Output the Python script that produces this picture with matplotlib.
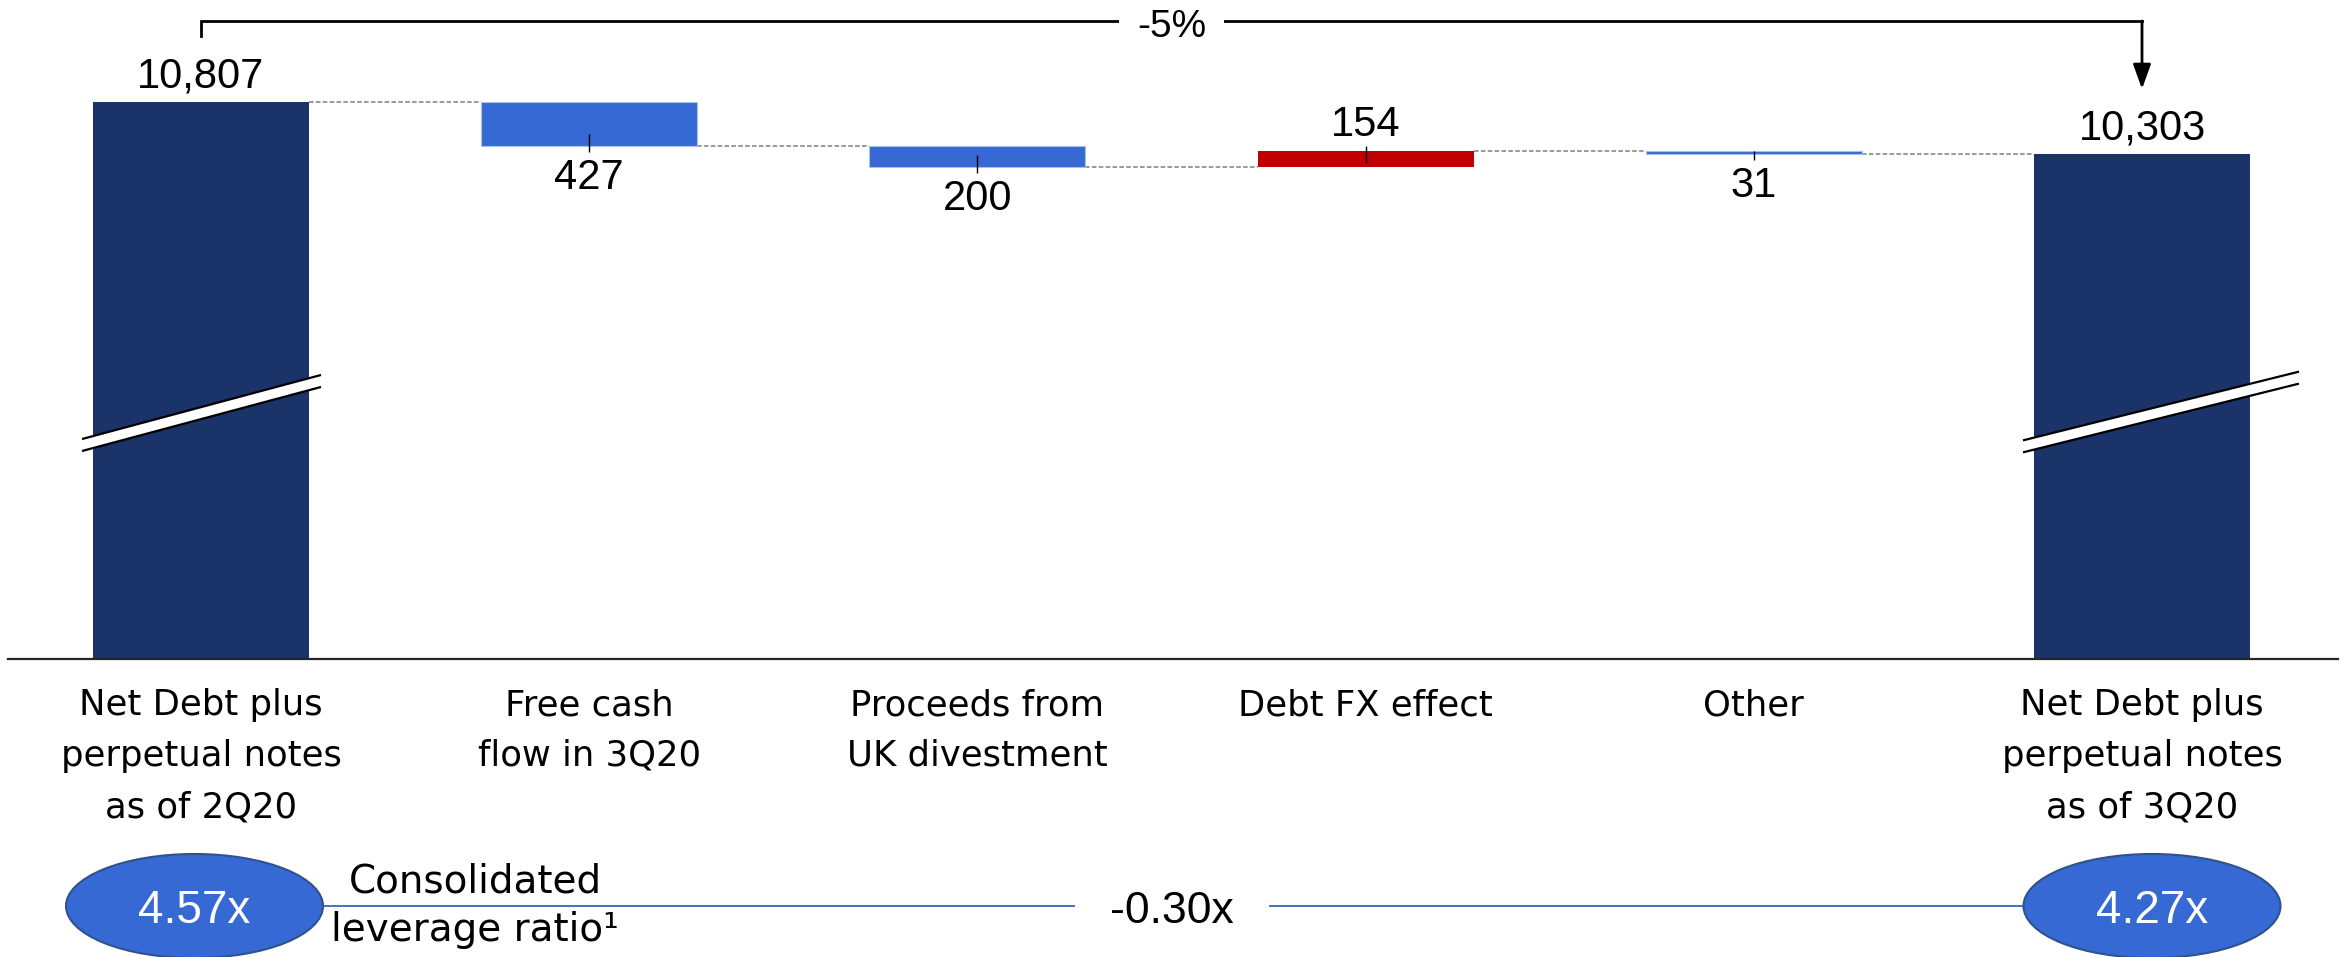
import matplotlib
matplotlib.use("Agg")
import matplotlib.pyplot as plt
import matplotlib.transforms as mtransforms
from matplotlib.patches import Ellipse, Polygon

# ---------------- data ----------------
categories = [
    "Net Debt plus\nperpetual notes\nas of 2Q20",
    "Free cash\nflow in 3Q20",
    "Proceeds from\nUK divestment",
    "Debt FX effect",
    "Other",
    "Net Debt plus\nperpetual notes\nas of 3Q20",
]
start_total = 10807
changes = [-427, -200, 154, -31]
end_total = 10303
value_labels = ["10,807", "427", "200", "154", "31", "10,303"]
change_pct_label = "-5%"
leverage_values = [4.57, 4.27]
leverage_change_label = "-0.30x"
leverage_title = ["Consolidated", "leverage ratio\u00b9"]

# ---------------- style ----------------
NAVY = "#1A3368"
BLUE = "#3669D3"
RED = "#C00000"
LINEBLUE = "#4472C4"
NUMFONT = "Liberation Sans"
TXTFONT = "DejaVu Sans"

W, H = 2346, 957
fig = plt.figure(figsize=(W / 100, H / 100), dpi=100)

AX_LEFT, AX_RIGHT, AX_BOTTOM_ROW = 8, 2338, 659
X0, DX = 201, 388.2  # pixel of first category centre, spacing
ax = fig.add_axes([AX_LEFT / W, (H - AX_BOTTOM_ROW) / H,
                   (AX_RIGHT - AX_LEFT) / W, AX_BOTTOM_ROW / H])
xlim = ((AX_LEFT - X0) / DX, (AX_RIGHT - X0) / DX)
YBASE = 5405
PX_PER_UNIT = 0.1031
ylim = (YBASE, YBASE + AX_BOTTOM_ROW / PX_PER_UNIT)
ax.set_xlim(*xlim)
ax.set_ylim(*ylim)
UPP = 1 / PX_PER_UNIT  # data units per pixel


def yrow(r):
    return YBASE + (AX_BOTTOM_ROW - r) * UPP


for s in ["top", "left", "right"]:
    ax.spines[s].set_visible(False)
ax.spines["bottom"].set_color("#262626")
ax.spines["bottom"].set_linewidth(1.6)
ax.set_xticks([])
ax.set_yticks([])

# ---------------- waterfall ----------------
xs = list(range(len(categories)))
bw = 0.556
bottoms, heights, colors = [YBASE], [start_total - YBASE], [NAVY]
levels = [start_total]
running = start_total
for c in changes:
    if c < 0:
        bottoms.append(running + c)
        heights.append(-c)
        colors.append(BLUE)
    else:
        bottoms.append(running)
        heights.append(c)
        colors.append(RED)
    running += c
    levels.append(running)
bottoms.append(YBASE)
heights.append(end_total - YBASE)
colors.append(NAVY)

edgecols = ["none" if c != BLUE else "#A9C0E8" for c in colors]
ax.bar(xs, heights, bottom=bottoms, width=bw, color=colors,
       edgecolor=edgecols, linewidth=0.8, zorder=2)

# dashed connectors
for i in range(len(xs) - 1):
    ax.hlines(levels[i], xs[i] + bw / 2, xs[i + 1] - bw / 2,
              colors="#7F7F7F", linestyles=(0, (3, 1.5)), linewidth=1.1, zorder=1)

# value labels
def off(dy):
    return mtransforms.offset_copy(ax.transData, fig=fig, x=0, y=dy, units="dots")

for i, lab in enumerate(value_labels):
    top = bottoms[i] + heights[i]
    if i in (0, len(xs) - 1) or (0 < i < len(xs) - 1 and changes[i - 1] > 0):
        ax.text(xs[i], top, lab, transform=off(15), ha="center", va="baseline",
                fontsize=30, family=NUMFONT, color="black")
    else:
        ax.text(xs[i], bottoms[i], lab, transform=off(-43), ha="center", va="baseline",
                fontsize=30, family=NUMFONT, color="black")

# leader ticks on change bars
for i in range(1, len(xs) - 1):
    c = changes[i - 1]
    hpx = heights[i] * PX_PER_UNIT
    inside = min(12, hpx)
    if c < 0:
        edge = bottoms[i]
        ax.vlines(xs[i], edge - 6 * UPP, edge + inside * UPP, colors="black",
                  linewidth=1.0, zorder=3)
    else:
        edge = bottoms[i] + heights[i]
        ax.vlines(xs[i], edge - inside * UPP, edge + 5 * UPP, colors="black",
                  linewidth=1.0, zorder=3)

# axis break marks
def break_mark(xc_data, row, half_len, slope, half_t=6):
    yc = yrow(row)
    tr = mtransforms.Affine2D() + mtransforms.ScaledTranslation(xc_data, yc, ax.transData)
    pts = [(-half_len, -half_len * slope - half_t), (half_len, half_len * slope - half_t),
           (half_len, half_len * slope + half_t), (-half_len, -half_len * slope + half_t)]
    ax.add_patch(Polygon(pts, closed=True, fc="white", ec="none", transform=tr,
                         zorder=4, clip_on=False))
    for sgn in (-1, 1):
        ax.plot([-half_len, half_len],
                [-half_len * slope + sgn * half_t, half_len * slope + sgn * half_t],
                color="black", lw=1.6, transform=tr, zorder=5, clip_on=False,
                solid_capstyle="butt")

break_mark(xs[0] + (201.5 - X0) / DX, 413, 119.5, 0.268)
break_mark(xs[-1] + (2161 - (X0 + 5 * DX)) / DX, 412, 138, 0.249)

# bracket with -5%
by = yrow(21)
ax.plot([xs[0], xs[0], xs[-1]], [yrow(36), by, by], color="black", lw=2,
        clip_on=False, zorder=3, solid_joinstyle="miter")
ax.annotate("", xy=(xs[-1], yrow(89)), xytext=(xs[-1], by),
            arrowprops=dict(arrowstyle="-|>,head_length=1.25,head_width=0.45",
                            mutation_scale=12, color="black", lw=2,
                            shrinkA=0, shrinkB=0), annotation_clip=False)
ax.text((xs[0] + xs[-1]) / 2, yrow(37), change_pct_label, ha="center", va="baseline",
        fontsize=28, family=NUMFONT, color="black", zorder=6,
        bbox=dict(boxstyle="square,pad=0.45", fc="white", ec="none"))

# category labels (one text per line)
xax = mtransforms.blended_transform_factory(ax.transData, ax.transAxes)
for i, cat in enumerate(categories):
    for j, line in enumerate(cat.split("\n")):
        tr = mtransforms.offset_copy(xax, fig=fig, x=0, y=-(56 + 51 * j), units="dots")
        ax.text(xs[i], 0, line, transform=tr, ha="center", va="baseline",
                fontsize=25.5, family=TXTFONT, color="black", clip_on=False)

# ---------------- leverage row ----------------
ROW_TOP = 840
bax = fig.add_axes([AX_LEFT / W, 0, (AX_RIGHT - AX_LEFT) / W, (H - ROW_TOP) / H])
bax.set_xlim(*xlim)
bax.set_ylim(H, ROW_TOP)
bax.axis("off")

ell_x = [xs[0] + (194.5 - X0) / DX, xs[-1] + (2152 - (X0 + 5 * DX)) / DX]
ell_w = 257 / DX
ell_row = 906
mid = (xs[0] + xs[-1]) / 2
gap = 97 / DX
bax.hlines(ell_row, ell_x[0] + ell_w / 2, mid - gap, colors=LINEBLUE, lw=1.4, zorder=1)
bax.hlines(ell_row, mid + gap, ell_x[1] - ell_w / 2, colors=LINEBLUE, lw=1.4, zorder=1)
for ex, val in zip(ell_x, leverage_values):
    bax.add_patch(Ellipse((ex, ell_row), ell_w, 104, fc=BLUE, ec="#2F528F", lw=1.5,
                          zorder=2, clip_on=False))
    bax.text(ex, 923, f"{val:.2f}x", ha="center", va="baseline", fontsize=33,
             family=NUMFONT, color="white", zorder=3)
bax.text(mid, 923, leverage_change_label, ha="center", va="baseline", fontsize=32,
         family=NUMFONT, color="black")
tx = (475 - X0) / DX
bax.text(tx, 893, leverage_title[0], ha="center", va="baseline", fontsize=28,
         family=TXTFONT, color="black")
bax.text(tx, 941, leverage_title[1], ha="center", va="baseline", fontsize=28,
         family=TXTFONT, color="black")

fig.savefig("out.png", dpi=100, facecolor="white")
